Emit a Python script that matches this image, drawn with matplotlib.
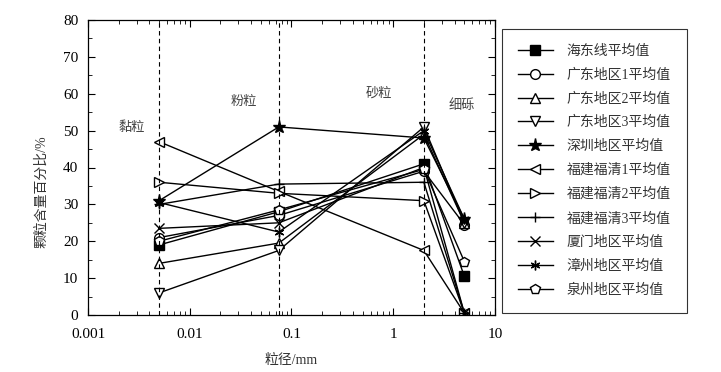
import matplotlib
matplotlib.use("Agg")
import matplotlib.pyplot as plt
from matplotlib.ticker import LogLocator, NullFormatter, MultipleLocator

plt.rcParams['font.family'] = ['Liberation Serif', 'Noto Sans CJK SC']
plt.rcParams['axes.unicode_minus'] = False

# particle sizes (mm) for clay, silt, sand, fine gravel
sizes = [0.005, 0.075, 2, 5]

series_names = ['海东线平均值', '广东地区1平均值', '广东地区2平均值', '广东地区3平均值',
                '深圳地区平均值', '福建福清1平均值', '福建福清2平均值', '福建福清3平均值',
                '厦门地区平均值', '漳州地区平均值', '泉州地区平均值']

haidong = [19, 28, 41, 10.5]
gd1 = [21, 27, 39, 24.5]
gd2 = [14, 19.5, 49, 25]
gd3 = [6, 17.5, 51, 25]
shenzhen = [31, 51, 48, 26]
fq1 = [47, 33.5, 17.5, 0.5]
fq2 = [36, 33, 31, 0.5]
fq3 = [30, 35.5, 36, 0.5]
xiamen = [23.5, 25, 40, 0.5]
zhangzhou = [30.5, 22.5, 50, 26]
quanzhou = [20, 28.5, 39.5, 14.5]

all_values = [haidong, gd1, gd2, gd3, shenzhen, fq1, fq2, fq3, xiamen, zhangzhou, quanzhou]
markers = ['s', 'o', '^', 'v', '*', '<', '>', '+', 'x', (6, 2, 0), 'p']
filled = [True, False, False, False, True, False, False, True, True, True, False]

boundaries = [0.005, 0.075, 2]
zone_labels = ['黏粒', '粉粒', '砂粒', '细砾']
zone_x = [0.0027, 0.034, 0.72, 4.7]
zone_y = [50.7, 57.8, 60.2, 56.7]

fig = plt.figure(figsize=(7.21, 3.72), dpi=100)
ax = fig.add_axes([88 / 721, 57 / 372, 407 / 721, 295 / 372])

for vals, name, m, f in zip(all_values, series_names, markers, filled):
    ms = 9.5 if m == '*' else 7
    ax.plot(sizes, vals, color='black', linewidth=1.0, marker=m, markersize=ms,
            markerfacecolor='black' if f else 'white', markeredgecolor='black',
            markeredgewidth=1.0, label=name)

for b in boundaries:
    ax.axvline(b, color='black', linestyle=(0, (4, 3)), linewidth=0.8)

for t, x, y in zip(zone_labels, zone_x, zone_y):
    ax.text(x, y, t, ha='center', va='center', fontsize=9.5, color='#444444')

ax.set_xscale('log')
ax.set_xlim(0.001, 10)
ax.set_ylim(0, 80)
ax.yaxis.set_major_locator(MultipleLocator(10))
ax.yaxis.set_minor_locator(MultipleLocator(5))
ax.xaxis.set_minor_locator(LogLocator(base=10, subs=range(2, 10), numticks=20))
ax.xaxis.set_minor_formatter(NullFormatter())
ax.set_xticks([0.001, 0.01, 0.1, 1, 10])
ax.set_xticklabels(['0.001', '0.01', '0.1', '1', '10'])

ax.tick_params(which='both', direction='in', top=True, right=True, labelsize=11, colors='black')
ax.tick_params(which='major', length=5, width=0.8)
ax.tick_params(which='minor', length=3, width=0.6)
ax.tick_params(axis='x', which='major', pad=9)
ax.tick_params(axis='y', which='major', pad=7)
for s in ax.spines.values():
    s.set_linewidth(0.9)

ax.set_xlabel('粒径/mm', fontsize=10, color='#333333', labelpad=10)
fig.text(42 / 721, 1 - 192 / 372, '颗粒含量百分比/%', rotation=90, ha='center', va='center',
         fontsize=10, color='#333333')

leg = fig.legend(loc='upper left', bbox_to_anchor=(502 / 721, 1 - 29 / 372),
                 frameon=True, fancybox=False, edgecolor='black', fontsize=10,
                 handlelength=2.5, handletextpad=1.0, labelspacing=0.76,
                 borderpad=1.15, borderaxespad=0)
leg.get_frame().set_linewidth(0.8)
for txt in leg.get_texts():
    txt.set_color('#333333')

fig.savefig('out.png', dpi=100)
